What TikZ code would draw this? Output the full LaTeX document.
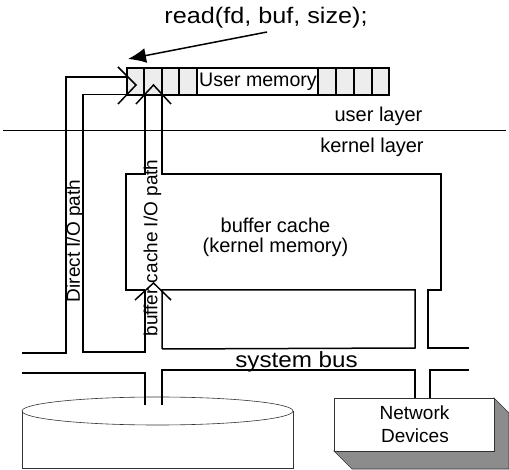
\documentclass[tikz,border=0pt]{standalone}
\usepackage{fontspec}
\setmainfont{Liberation Sans}
\usetikzlibrary{arrows.meta}
\tikzset{
  wire/.style={line width=1.5pt,line join=miter,line cap=butt},
  thin wire/.style={line width=0.6pt,black!80},
  cell/.style={draw,line width=1.5pt,fill=black!7},
  lab/.style={inner sep=0pt,font=\fontsize{#1}{#1}\selectfont},
  lab/.default=18,
}
\begin{document}
\begin{tikzpicture}[x=1pt,y=-1pt]
\useasboundingbox (0,0) rectangle (509,470);
\fill[white] (0,0) rectangle (509,470);
% user memory bar
\foreach \a/\b in {127/144,144/162,162/179,179/197,318/336,336/354,354/372,372/389}
  \path[cell] (\a,68) rectangle (\b,95);
\draw[wire] (197,68) rectangle (318,95);
\node[lab=19.6] (um) at (258,82) {User memory};
% read call
\node[lab=22.5,xscale=1.12,transform shape] (rd) at (266,18) {read(fd, buf, size);};
\coordinate (rdtail) at (267,32);
\coordinate (rdtip) at (128,59);
\draw[line width=1.5pt,-{Latex[length=18pt,width=15pt]}] (rdtail) -- (rdtip);
% layer line
\draw[line width=0.7pt] (3,130) -- (506,130);
\node[lab=20] (ul) at (378.5,116) {user layer};
\node[lab=20] (kl) at (372,147) {kernel layer};
% direct path
\draw[wire] (22,353) -- (66,353) -- (66,77) -- (127,77);
\draw[wire] (127,94.5) -- (83,94.5) -- (83,352) -- (145,352) -- (145,290);
\draw[wire] (118,67) -- (136,85) -- (118,104);
% buffer cache path upper
\draw[wire] (136,104) -- (153.5,85) -- (171,104);
\draw[wire] (145,95) -- (145,174) -- (126,174) -- (126,290) -- (145,290);
\draw[wire] (162,95) -- (162,174) -- (441,174) -- (441,290) -- (428,290) -- (428,348) -- (469,348);
\draw[wire] (135,300) -- (153.5,283) -- (171,300);
\draw[wire] (162,349) -- (162,290) -- (415,290) -- (415,348) -- (162,349);
% disk
\draw[thin wire] (22,411) -- (22,468) -- (293,468) -- (293,411);
\draw[thin wire] (157.5,411) ellipse [x radius=135.5,y radius=14];
% system bus lower
\draw[wire] (22,373) -- (145,373) -- (145,405);
\draw[wire] (162,405) -- (162,370) -- (415,370) -- (415,405);
\draw[wire] (469,370) -- (430,370) -- (430,398);
% network device
\draw[thin wire,fill=black!45] (334,451) -- (352,469) -- (509,469) -- (509,413) -- (494,398) -- (494,451) -- cycle;
\draw[thin wire,fill=white] (334,398) rectangle (494,451);
% labels
\node[lab=20] (bc1) at (275.5,225) {buffer cache};
\node[lab=20] (bc2) at (275.5,247) {(kernel memory)};
\node[lab=19,rotate=90,transform shape] (dp) at (75,241) {Direct I/O path};
\node[lab=19,rotate=90,transform shape] (bp) at (152.5,248) {buffer cache I/O path};
\node[lab=22,xscale=1.1,transform shape] (sb) at (296.5,362) {system bus};
\node[lab=19] (nw) at (414.5,413) {Network};
\node[lab=19] (dv) at (415,436) {Devices};
\end{tikzpicture}
\end{document}
